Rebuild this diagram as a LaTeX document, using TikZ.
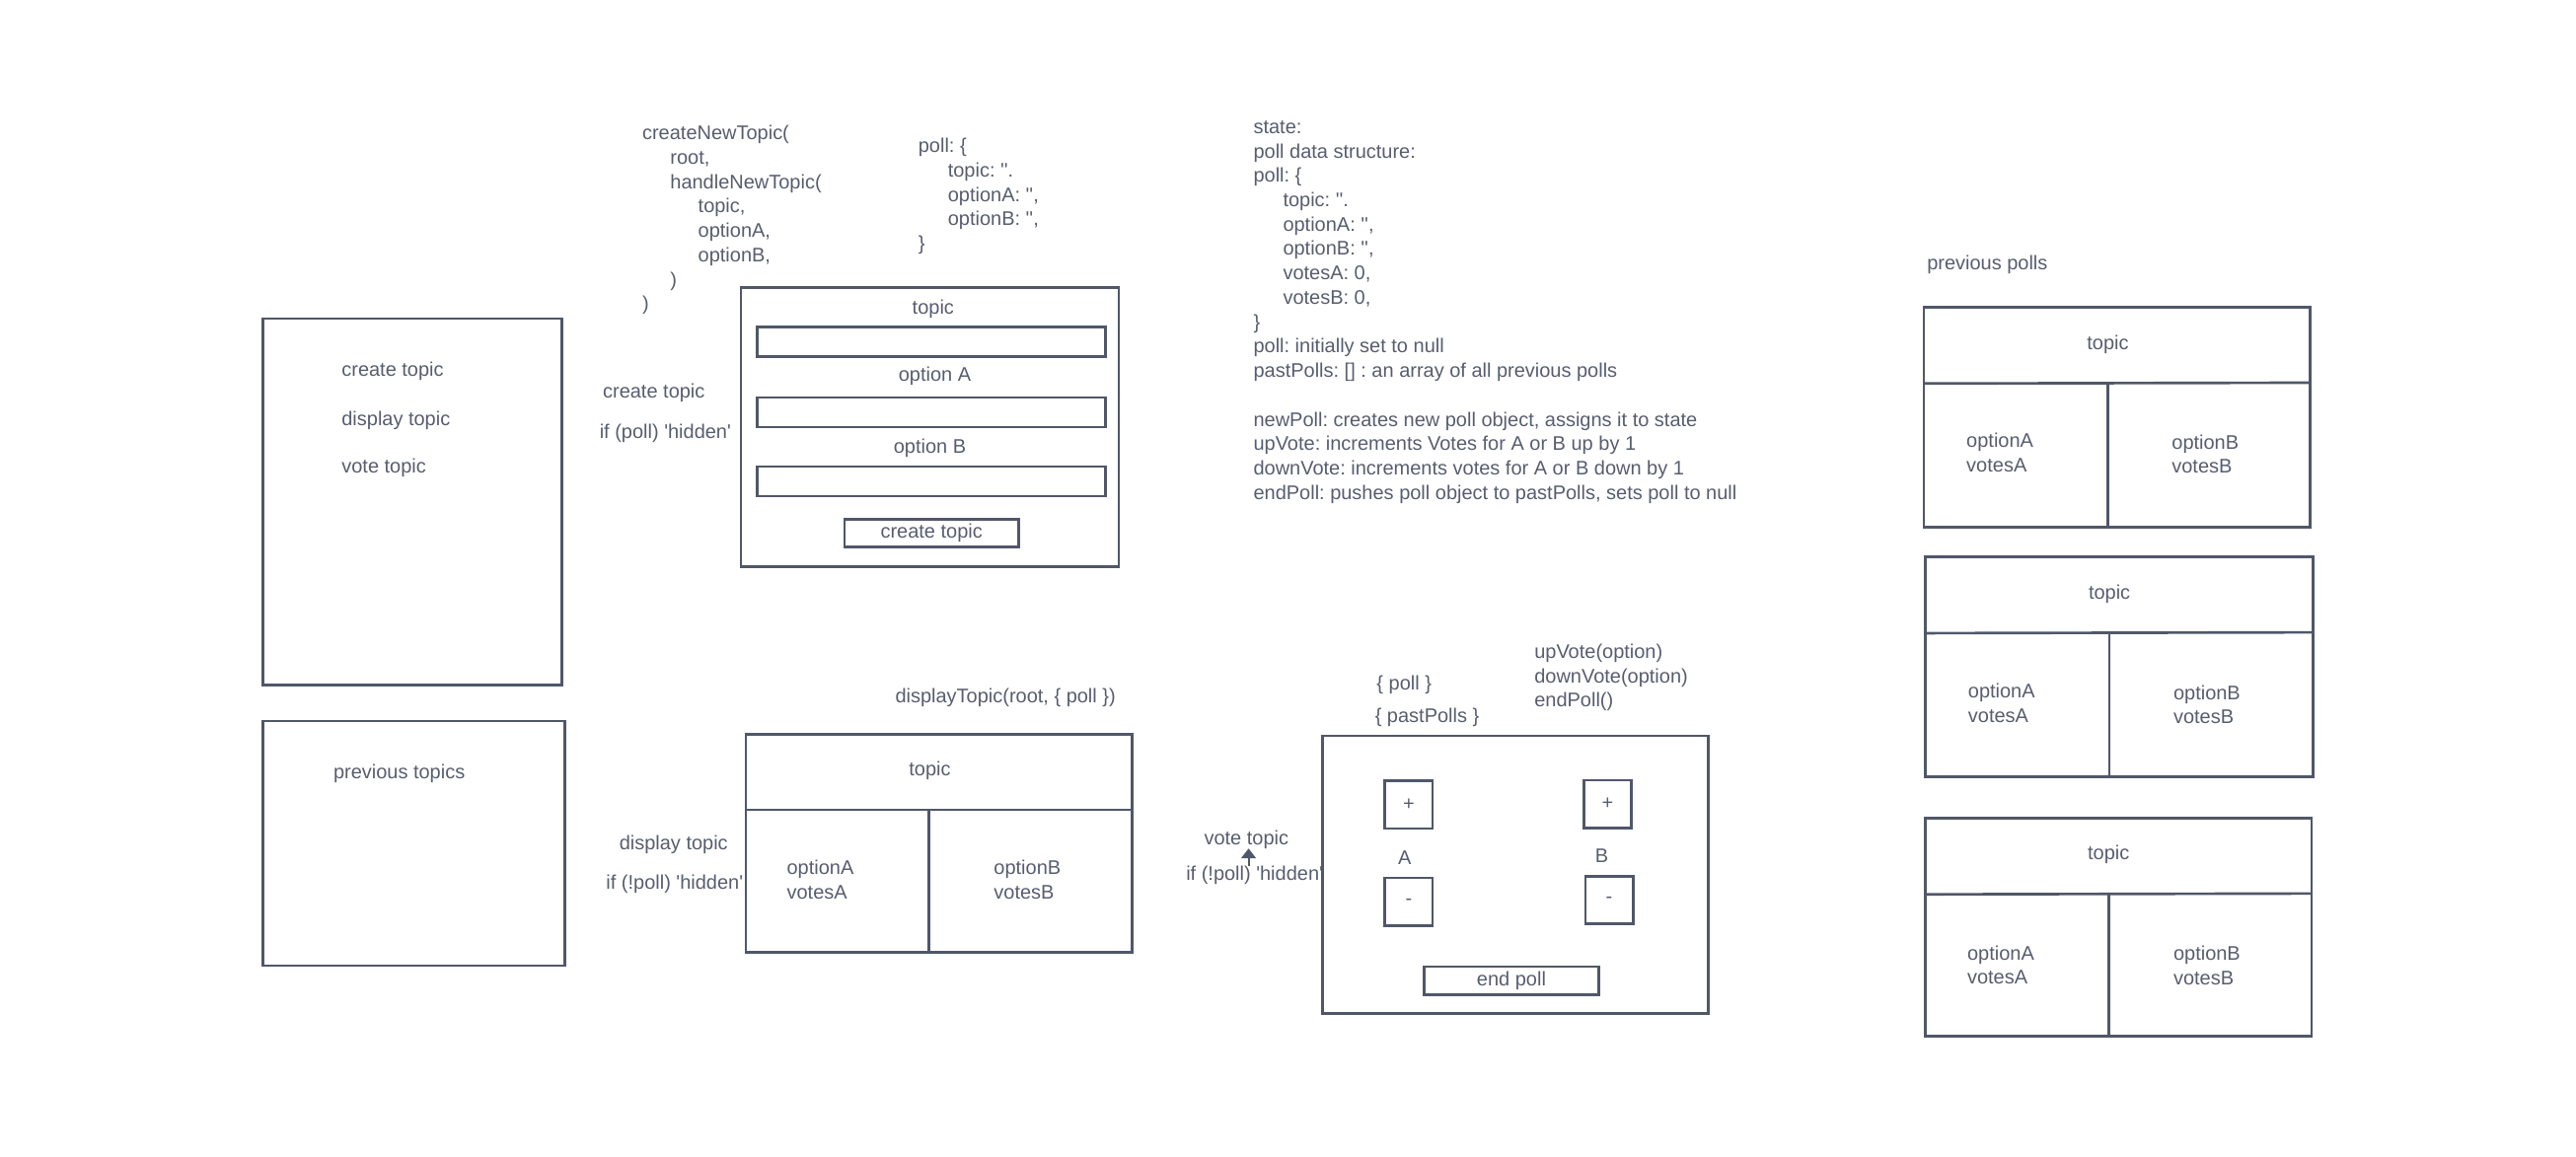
\documentclass[tikz,border=0pt]{standalone}
\usepackage{fontspec}
\newfontfamily\uifont{Liberation Sans}
\usetikzlibrary{arrows.meta}
\definecolor{linec}{HTML}{505769}
\definecolor{txtc}{HTML}{575D6F}

\begin{document}
\frenchspacing
\begin{tikzpicture}[x=1pt, y=-1pt,
  every node/.style={text=txtc, inner sep=0pt, outer sep=0pt, font=\uifont\fontsize{12}{14.85}\selectfont},
  frame/.style={draw=linec, line width=1.6pt},
  field/.style={frame, minimum width=212pt, minimum height=18pt},
  btn/.style={frame, minimum width=106pt, minimum height=17pt},
  pmbox/.style={frame, minimum size=29pt},
  code/.style={anchor=west, align=left}]
\useasboundingbox (0,0) rectangle (1568,704.4);

% navigation
\draw[frame] (160,194) rectangle (342,417);
\node[anchor=west] (navcreate) at (208,226) {create topic};
\node[anchor=west] (navdisplay) at (208,256) {display topic};
\node[anchor=west] (navvote) at (208,285) {vote topic};
\draw[frame] (160,439) rectangle (344,588);
\node[anchor=west] (navprev) at (203,471) {previous topics};

% create topic
\node[code] (newtopic) at (391,134) {createNewTopic(\\\hspace*{17pt}root,\\\hspace*{17pt}handleNewTopic(\\\hspace*{34pt}topic,\\\hspace*{34pt}optionA,\\\hspace*{34pt}optionB,\\\hspace*{17pt})\\)};
\node[code] (pollshape) at (559,119.5) {poll: \{\\\hspace*{18pt}topic: ''.\\\hspace*{18pt}optionA: '',\\\hspace*{18pt}optionB: '',\\\}};
\draw[frame] (451,175) rectangle (681,345);
\node (createhead) at (568,188) {topic};
\node[field] (topicin) at (567,208) {};
\node (optalbl) at (569,229) {option A};
\node[field] (optain) at (567,251) {};
\node (optblbl) at (566,273) {option B};
\node[field] (optbin) at (567,293) {};
\node[btn] (createbtn) at (567,324.5) {create topic};
\node[anchor=west] (createlbl) at (367,239) {create topic};
\node[anchor=west] (createif) at (365,264) {if (poll) 'hidden'};

% display topic
\node[anchor=west] (displaycall) at (545,425) {displayTopic(root, \{ poll \})};
\draw[frame] (454,447) rectangle (689,580);
\draw[frame] (454,493) -- (689,493);
\draw[frame] (565.5,493) -- (565.5,580);
\node (disphead) at (566,469) {topic};
\node[code] (dispa) at (479,535.5) {optionA\\votesA};
\node[code] (dispb) at (605,535.5) {optionB\\votesB};
\node[anchor=west] (displbl) at (377,514) {display topic};
\node[anchor=west] (dispif) at (369,538) {if (!poll) 'hidden'};

% vote topic
\node[anchor=west] (propspoll) at (838,417) {\{ poll \}};
\node[anchor=west] (propspast) at (837,437) {\{ pastPolls \}};
\node[code] (votecalls) at (934,412.5) {upVote(option)\\downVote(option)\\endPoll()};
\draw[frame] (805,448) rectangle (1040,617);
\node[pmbox] (aplus) at (857.5,490) {+};
\node (alabel) at (855,522) {A};
\node[pmbox] (aminus) at (857.5,549) {-};
\node[pmbox] (bplus) at (978.5,489.5) {+};
\node (blabel) at (975,521) {B};
\node[pmbox] (bminus) at (979.5,548) {-};
\node[btn] (endbtn) at (920,597) {end poll};
\node[anchor=west] (votelbl) at (733,511) {vote topic};
\node[anchor=west] (voteif) at (722,533) {if (!poll) 'hidden'};
\coordinate (arrowx) at (760,0);
\draw[linec, line width=1.2pt, -{Triangle[width=9pt,length=6pt]}] (voteif.north -| arrowx) -- (votelbl.south -| arrowx);

% state notes
\node[code] (statenotes) at (763,190) {state:\\poll data structure:\\poll: \{\\\hspace*{18pt}topic: ''.\\\hspace*{18pt}optionA: '',\\\hspace*{18pt}optionB: '',\\\hspace*{18pt}votesA: 0,\\\hspace*{18pt}votesB: 0,\\\}\\poll: initially set to null\\pastPolls: [] : an array of all previous polls\\[14.85pt]newPoll: creates new poll object, assigns it to state\\upVote: increments Votes for A or B up by 1\\downVote: increments votes for A or B down by 1\\endPoll: pushes poll object to pastPolls, sets poll to null};

% previous polls
\node[anchor=west] (prevlbl) at (1173,161) {previous polls};
\draw[frame] (1171,187) rectangle (1406,321);
\draw[frame] (1171,233.5) -- (1406,233);
\draw[frame] (1283,233.5) -- (1283,321);
\node (card1head) at (1283,210) {topic};
\node[code] (card1a) at (1197,275.5) {optionA\\votesA};
\node[code] (card1b) at (1322,276.5) {optionB\\votesB};

\draw[frame] (1172,339) rectangle (1408,473);
\draw[frame] (1172,385.5) -- (1408,385);
\draw[frame] (1284,385.5) -- (1284,473);
\node (card2head) at (1284,362) {topic};
\node[code] (card2a) at (1198,428) {optionA\\votesA};
\node[code] (card2b) at (1323,429) {optionB\\votesB};

\draw[frame] (1172,498) rectangle (1407,631);
\draw[frame] (1172,544.5) -- (1407,544);
\draw[frame] (1283.5,544.5) -- (1283.5,631);
\node (card3head) at (1283.5,520.5) {topic};
\node[code] (card3a) at (1197.5,587.5) {optionA\\votesA};
\node[code] (card3b) at (1323,588) {optionB\\votesB};
\end{tikzpicture}
\end{document}
